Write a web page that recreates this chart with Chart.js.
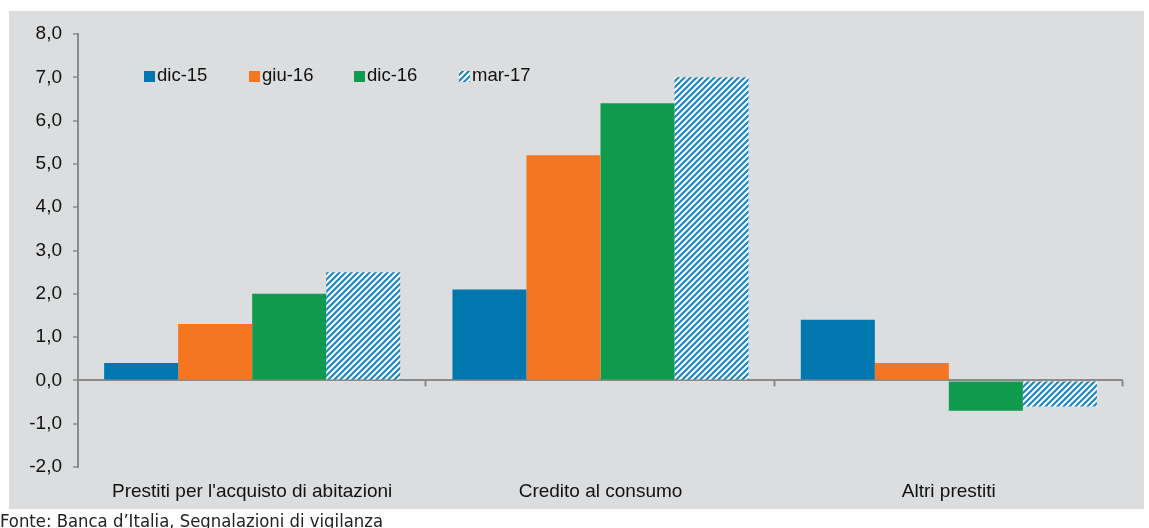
<!DOCTYPE html>
<html lang="it">
<head>
<meta charset="utf-8">
<script src="https://cdn.jsdelivr.net/npm/chart.js@4.4.0/dist/chart.umd.min.js"></script>
<style>
  html, body { margin: 0; padding: 0; background: #fff; }
  canvas { display: block; }
</style>
</head>
<body>
<canvas id="chart" width="1149" height="528"></canvas>
<script>
// Chart data
const categories = ["Prestiti per l'acquisto di abitazioni", 'Credito al consumo', 'Altri prestiti'];
const seriesLabels = ['dic-15', 'giu-16', 'dic-16', 'mar-17'];
const dic15 = [0.4, 2.1, 1.4];
const giu16 = [1.3, 5.2, 0.4];
const dic16 = [2.0, 6.4, -0.7];
const mar17 = [2.5, 7.0, -0.6];
const yMin = -2;
const yMax = 8;
const sourceNote = 'Fonte: Banca d\u2019Italia, Segnalazioni di vigilanza';

const FONT = "'Liberation Sans', Arial, sans-serif";
const TEXT = '#111111';
const AXIS = '#8a8a8a';

// diagonal hatch for the last series
function makeHatch() {
    const tile = document.createElement('canvas');
    tile.width = 6;
    tile.height = 6;
    const t = tile.getContext('2d');
    t.fillStyle = '#ffffff';
    t.fillRect(0, 0, 6, 6);
    t.strokeStyle = '#1b87c3';
    t.lineWidth = 2.2;
    t.beginPath();
    t.moveTo(-1, 1); t.lineTo(1, -1);
    t.moveTo(0, 6); t.lineTo(6, 0);
    t.moveTo(5, 7); t.lineTo(7, 5);
    t.stroke();
    return t.createPattern(tile, 'repeat');
}
const hatch = makeHatch();

const colors = ['#0077ae', '#f47621', '#0f9b4e', hatch];

// gray panel behind the plot + source note under it
const panelPlugin = {
    id: 'panel',
    beforeDraw(chart) {
        const ctx = chart.ctx;
        ctx.save();
        ctx.fillStyle = '#dcddde';
        ctx.fillRect(9, 11, 1135, 498);
        ctx.restore();
    },
    afterDraw(chart) {
        const ctx = chart.ctx;
        ctx.save();
        ctx.font = "17px 'Liberation Sans Narrow', 'DejaVu Sans Condensed', sans-serif";
        ctx.fillStyle = '#222';
        ctx.textBaseline = 'alphabetic';
        const w = ctx.measureText(sourceNote).width;
        ctx.scale(383 / w, 1);
        ctx.fillText(sourceNote, 0, 527);
        ctx.restore();
    }
};

// small ticks on the zero line between categories
const zeroTicksPlugin = {
    id: 'zeroTicks',
    afterDraw(chart) {
        const x = chart.scales.x;
        const y0 = chart.scales.y.getPixelForValue(0);
        const ctx = chart.ctx;
        const marks = [];
        for (let i = 0; i < categories.length - 1; i++) {
            marks.push((x.getPixelForValue(i) + x.getPixelForValue(i + 1)) / 2);
        }
        marks.push(chart.chartArea.right);
        ctx.save();
        ctx.strokeStyle = AXIS;
        ctx.lineWidth = 2;
        marks.forEach(mx => {
            const px = Math.round(mx) - 0.5;
            ctx.beginPath();
            ctx.moveTo(px, y0);
            ctx.lineTo(px, y0 + 6);
            ctx.stroke();
        });
        ctx.restore();
    }
};

// legend inside the plot, top left
const legendPlugin = {
    id: 'insideLegend',
    afterDraw(chart) {
        const ctx = chart.ctx;
        ctx.save();
        ctx.font = '18.5px ' + FONT;
        ctx.textBaseline = 'middle';
        chart.data.datasets.forEach((ds, i) => {
            const bx = 144 + i * 105;
            const by = 71;
            ctx.fillStyle = ds.backgroundColor;
            ctx.fillRect(bx, by, 11, 11);
            ctx.fillStyle = TEXT;
            ctx.fillText(ds.label, bx + 13, by + 5);
        });
        ctx.restore();
    }
};

new Chart(document.getElementById('chart'), {
    type: 'bar',
    data: {
        labels: categories,
        datasets: [dic15, giu16, dic16, mar17].map((d, i) => ({
            label: seriesLabels[i],
            data: d,
            backgroundColor: colors[i],
            borderWidth: 0,
            categoryPercentage: 0.85,
            barPercentage: 1
        }))
    },
    options: {
        responsive: false,
        animation: false,
        devicePixelRatio: 1,
        layout: { padding: { left: 0, right: 26, top: 34, bottom: 21 } },
        plugins: {
            legend: { display: false },
            tooltip: { enabled: false }
        },
        events: [],
        scales: {
            x: {
                grid: { display: false, drawTicks: false },
                border: { display: false },
                ticks: { color: TEXT, font: { family: FONT, size: 19 }, padding: 13, maxRotation: 0 },
                afterFit(s) { s.height = 40; }
            },
            y: {
                min: yMin,
                max: yMax,
                z: 1,
                afterFit(s) { s.width = 78; },
                ticks: {
                    stepSize: 1,
                    color: TEXT,
                    font: { family: FONT, size: 19 },
                    padding: 11,
                    callback: v => v.toFixed(1).replace('.', ',')
                },
                grid: {
                    color: c => (c.tick && c.tick.value === 0) ? AXIS : 'rgba(0,0,0,0)',
                    lineWidth: 2,
                    tickColor: AXIS,
                    tickLength: 5,
                    tickWidth: 1.5
                },
                border: { color: AXIS, width: 2 }
            }
        }
    },
    plugins: [panelPlugin, zeroTicksPlugin, legendPlugin]
});
</script>
</body>
</html>
